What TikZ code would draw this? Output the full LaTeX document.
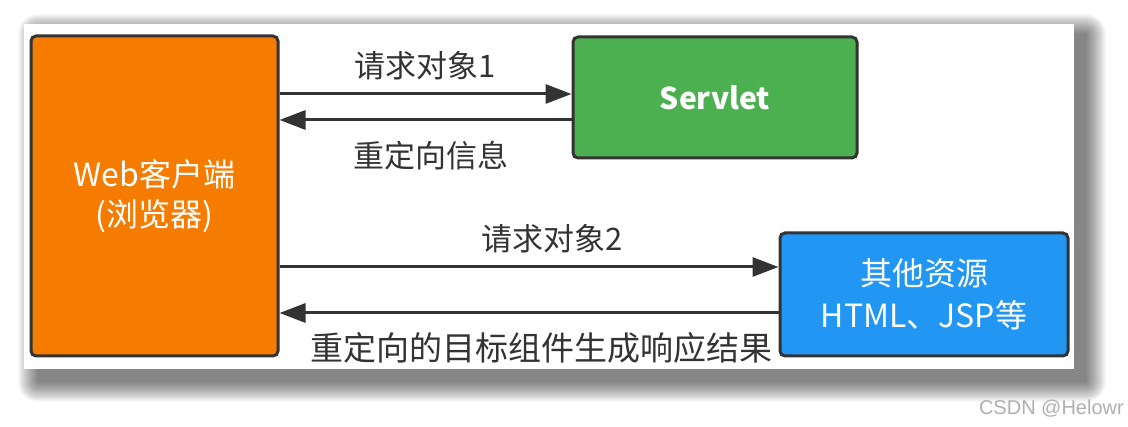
\documentclass[tikz,border=0pt]{standalone}
\usepackage{fontspec}
\setmainfont{Noto Sans CJK SC}
\newfontfamily\wmfont{Liberation Sans}
\usetikzlibrary{arrows.meta}
\definecolor{cOrange}{HTML}{F57C00}
\definecolor{cGreen}{HTML}{4CAF50}
\definecolor{cBlue}{HTML}{2196F3}
\definecolor{cLine}{HTML}{333333}
\definecolor{cText}{HTML}{333333}
\definecolor{cMark}{HTML}{B0B0B0}
\tikzset{
  boxstyle/.style={draw=cLine, line width=3pt, rounded corners=5pt, inner sep=0pt,
    text=white, align=center},
  arr/.style={draw=cLine, line width=3pt, -{Triangle[length=26pt,width=19pt]}},
  lbl/.style={text=cText, inner sep=0pt, font=\fontsize{31}{36}\selectfont},
}
\begin{document}
\begin{tikzpicture}[x=1pt,y=-1pt]
\useasboundingbox (0,0) rectangle (1128,427);
\fill[white] (0,0) rectangle (1128,427);
% soft shadow of the card
\foreach \r in {20,19,...,0}{
  \fill[black, opacity=0.028, rounded corners=\r pt]
    (38-\r,34-\r) rectangle (1086+\r,382+\r);
}
% card
\fill[white] (24,24) rectangle (1074,369);
% boxes
\node[boxstyle, fill=cOrange, minimum width=247pt, minimum height=320pt,
  font=\fontsize{32}{40}\selectfont] (web) at (154.5,196)
  {Web客户端\\(浏览器)};
\node[boxstyle, fill=cGreen, minimum width=284pt, minimum height=121pt,
  font=\fontsize{30}{36}\selectfont\bfseries] (servlet) at (715,97.5)
  {Servlet};
\node[boxstyle, fill=cBlue, minimum width=288pt, minimum height=123pt,
  font=\fontsize{32}{42}\selectfont] (other) at (924,294.5)
  {其他资源\\HTML、JSP等};
% connectors
\draw[arr] (web.east |- 0,94) -- (servlet.west |- 0,94);
\draw[arr] (servlet.west |- 0,120) -- (web.east |- 0,120);
\draw[arr] (web.east |- 0,267) -- (other.west |- 0,267);
\draw[arr] (other.west |- 0,313) -- (web.east |- 0,313);
% labels
\node[lbl] (l1) at (425,66) {请求对象1};
\node[lbl] (l2) at (431,156) {重定向信息};
\node[lbl] (l3) at (552,239) {请求对象2};
\node[lbl, font=\fontsize{33}{38}\selectfont] (l4) at (541,348) {重定向的目标组件生成响应结果};
% watermark
\node[text=cMark, inner sep=0pt, anchor=east, font=\wmfont\fontsize{20}{24}\selectfont] (wm) at (1124,409) {CSDN @Helowr};
\end{tikzpicture}
\end{document}
